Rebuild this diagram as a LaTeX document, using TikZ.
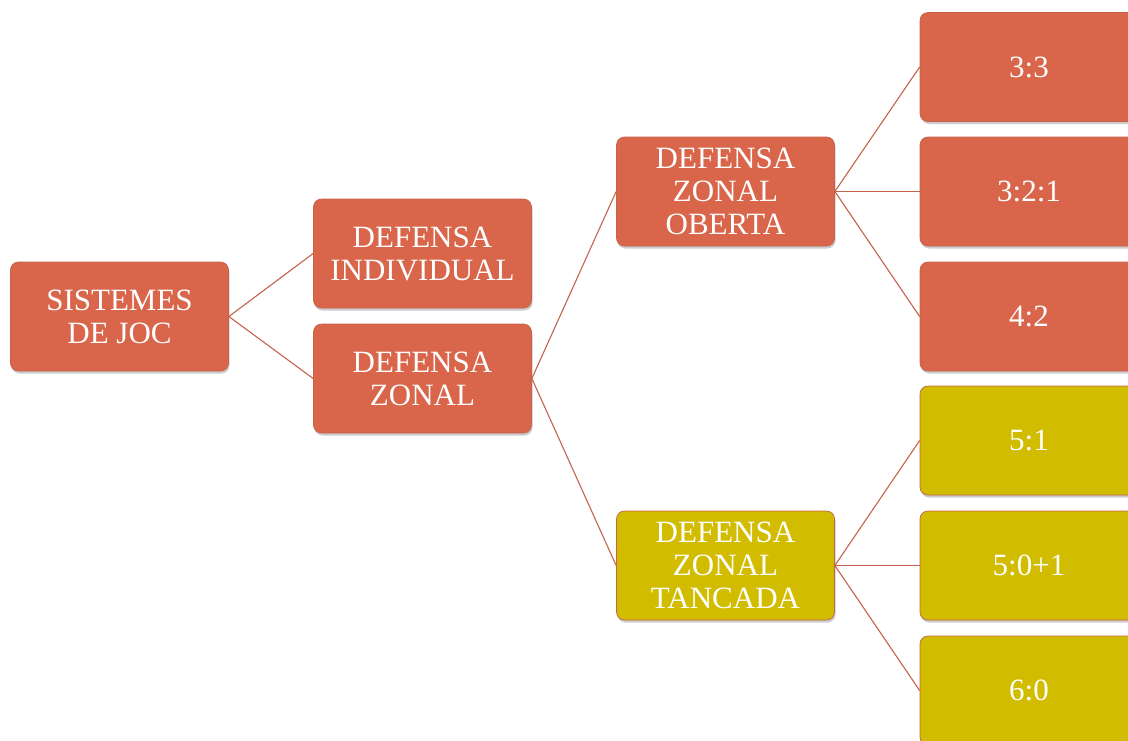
\documentclass[tikz,border=0pt]{standalone}
\usepackage{fontspec}
\setmainfont{Liberation Serif}
\usetikzlibrary{shadows}
\definecolor{boxred}{HTML}{D9654B}
\definecolor{boxyel}{HTML}{D2BC00}
\definecolor{edgecol}{HTML}{C5624C}
\tikzset{
  box/.style={rounded corners=8pt, draw=edgecol, line width=0.7pt, text=white,
    minimum width=218pt, minimum height=109pt, align=center, inner sep=2pt,
    font=\fontsize{31}{33}\selectfont,
    drop shadow={opacity=0.4, shadow xshift=1pt, shadow yshift=-2.5pt}},
  redbox/.style={box, fill=boxred},
  yelbox/.style={box, fill=boxyel},
  conn/.style={draw=edgecol, line width=1.1pt}
}
\begin{document}
\begin{tikzpicture}[x=1pt,y=-1pt]
\useasboundingbox (0,0) rectangle (1128,740);
\clip (0,0) rectangle (1128,740);
\node[redbox] (root) at (119.5,316.5) {SISTEMES\\DE JOC};
\node[redbox] (ind) at (422.5,253.5) {DEFENSA\\INDIVIDUAL};
\node[redbox] (zon) at (422.5,378.5) {DEFENSA\\ZONAL};
\node[redbox] (obe) at (725.5,191.5) {DEFENSA\\ZONAL\\OBERTA};
\node[yelbox] (tan) at (725.5,565.5) {DEFENSA\\ZONAL\\TANCADA};
\node[redbox] (l1) at (1029,67) {3:3};
\node[redbox] (l2) at (1029,191.5) {3:2:1};
\node[redbox] (l3) at (1029,316.5) {4:2};
\node[yelbox] (l4) at (1029,440.5) {5:1};
\node[yelbox] (l5) at (1029,565.5) {5:0+1};
\node[yelbox] (l6) at (1029,690.5) {6:0};
\draw[conn] (root.east) -- (ind.west);
\draw[conn] (root.east) -- (zon.west);
\draw[conn] (zon.east) -- (obe.west);
\draw[conn] (zon.east) -- (tan.west);
\draw[conn] (obe.east) -- (l1.west);
\draw[conn] (obe.east) -- (l2.west);
\draw[conn] (obe.east) -- (l3.west);
\draw[conn] (tan.east) -- (l4.west);
\draw[conn] (tan.east) -- (l5.west);
\draw[conn] (tan.east) -- (l6.west);
\end{tikzpicture}
\end{document}
